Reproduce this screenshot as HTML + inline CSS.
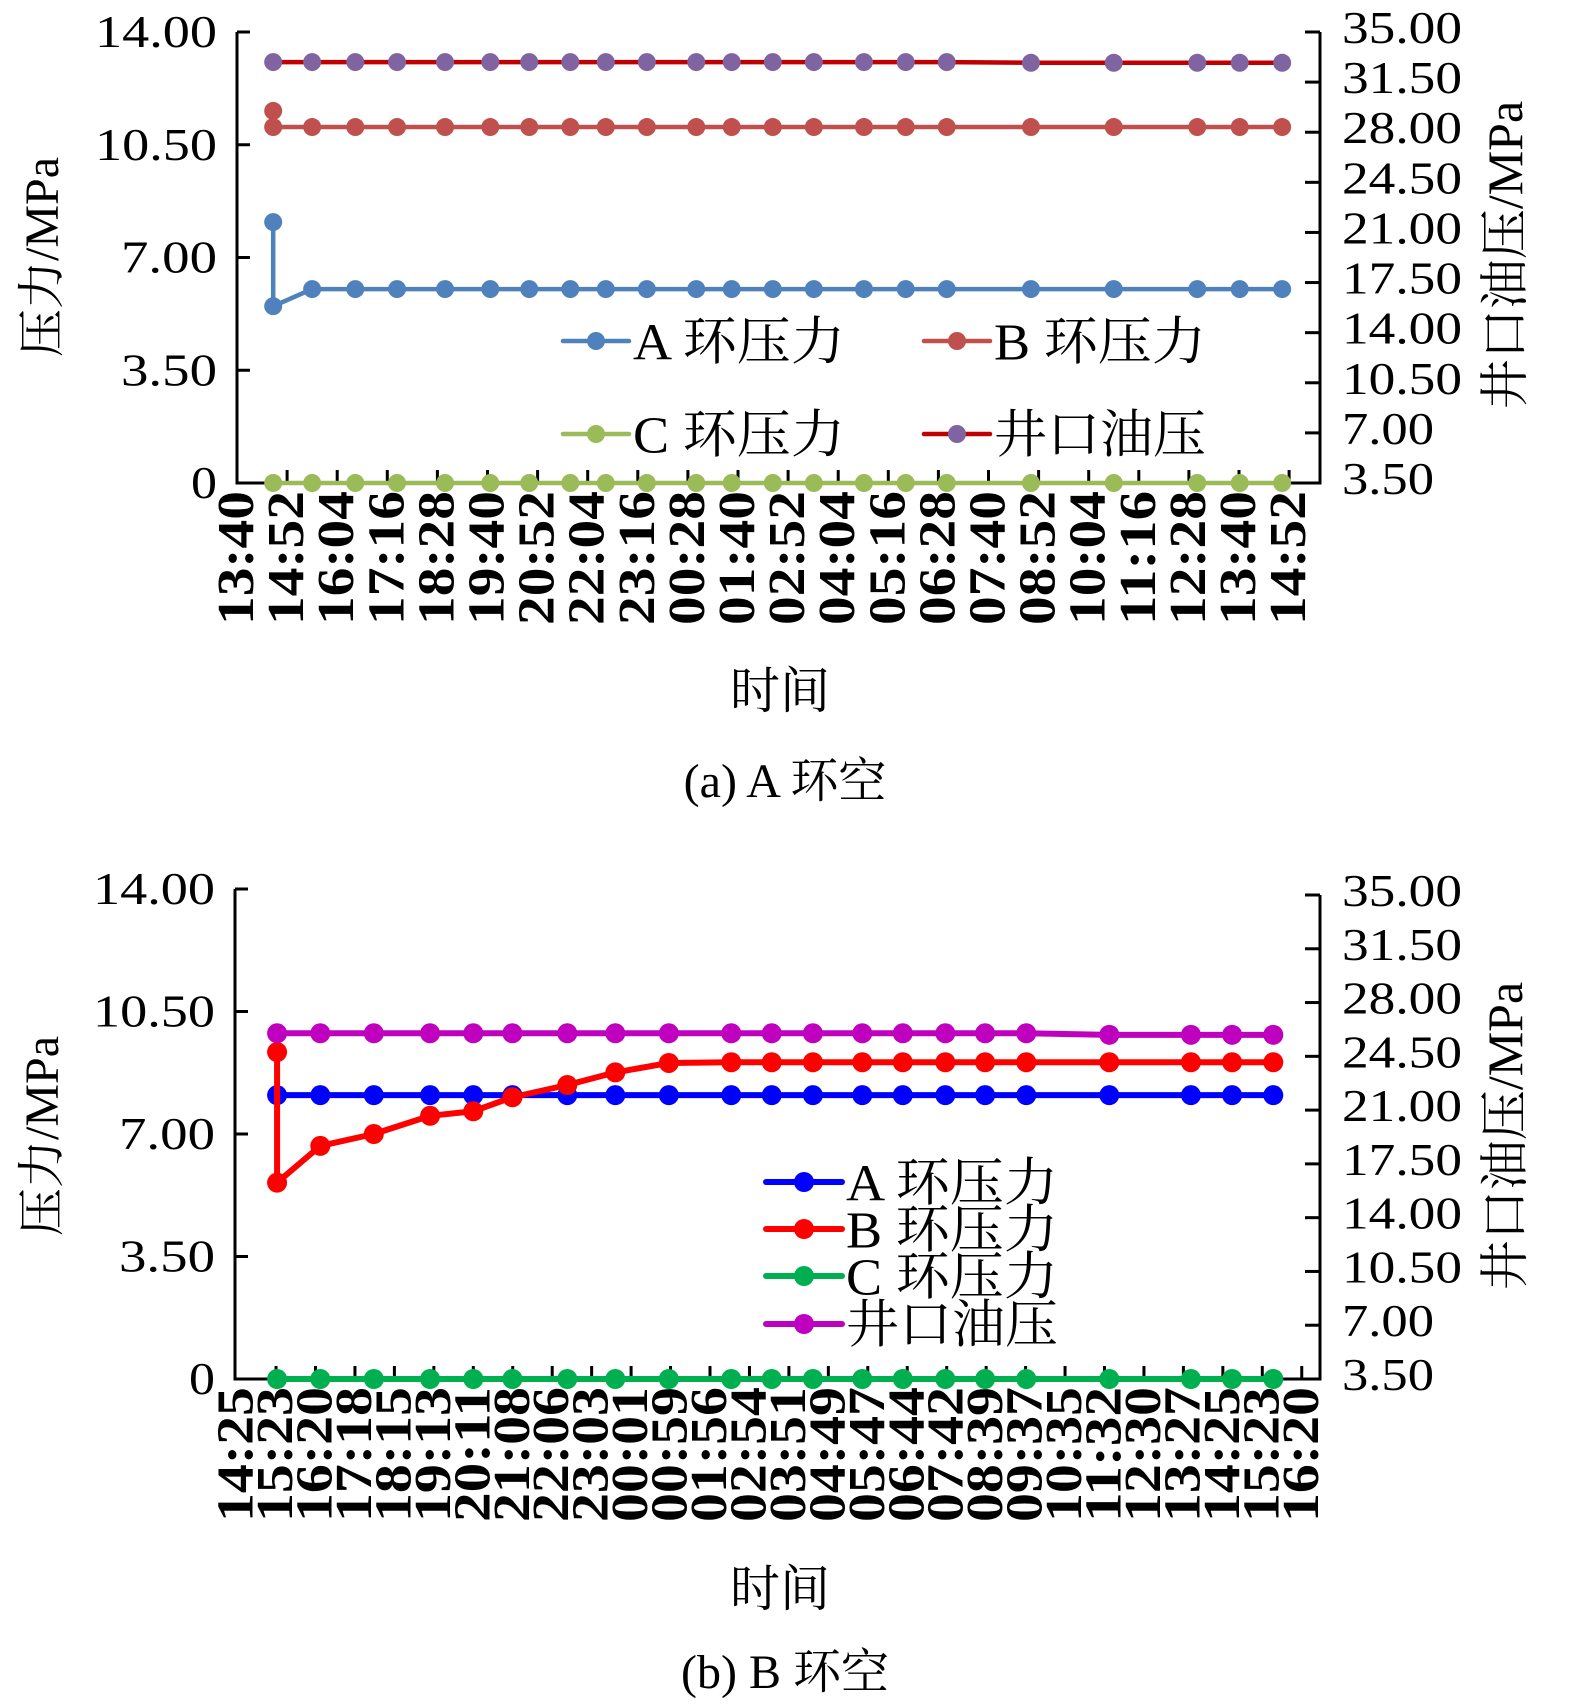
<!DOCTYPE html>
<html><head><meta charset="utf-8"><style>
html,body{margin:0;padding:0;background:#fff;}
svg{display:block;font-family:"Liberation Serif","Noto Serif CJK SC",serif;}
</style></head><body>
<svg id="s" width="1575" height="1704" viewBox="0 0 1575 1704" xmlns="http://www.w3.org/2000/svg"></svg>
<script>
// ---- Chart (a) data: time in minutes after 13:40 ----
const aTicks = ["13:40","14:52","16:04","17:16","18:28","19:40","20:52","22:04","23:16","00:28","01:40","02:52","04:04","05:16","06:28","07:40","08:52","10:04","11:16","12:28","13:40","14:52"];
const aTimes = [52,108,170,230,299,364,420,479,530,589,660,711,770,829,901,961,1020,1141,1260,1380,1441,1502];
const aTimesAB = [52,52,108,170,230,299,364,420,479,530,589,660,711,770,829,901,961,1020,1141,1260,1380,1441,1502];
const aSeriesA = [8.10,5.49,6.02,6.02,6.02,6.02,6.02,6.02,6.02,6.02,6.02,6.02,6.02,6.02,6.02,6.02,6.02,6.02,6.02,6.02,6.02,6.02,6.02];
const aSeriesB = [11.55,11.05,11.05,11.05,11.05,11.05,11.05,11.05,11.05,11.05,11.05,11.05,11.05,11.05,11.05,11.05,11.05,11.05,11.05,11.05,11.05,11.05,11.05];
const aSeriesC = [0,0,0,0,0,0,0,0,0,0,0,0,0,0,0,0,0,0,0,0,0,0];
const aSeriesWell = [32.9,32.9,32.9,32.9,32.9,32.9,32.9,32.9,32.9,32.9,32.9,32.9,32.9,32.9,32.9,32.9,32.9,32.85,32.85,32.85,32.85,32.85];
// ---- Chart (b) data: time in minutes after 14:25 ----
const bTicks = ["14:25","15:23","16:20","17:18","18:15","19:13","20:11","21:08","22:06","23:03","00:01","00:59","01:56","02:54","03:51","04:49","05:47","06:44","07:42","08:39","09:37","10:35","11:32","12:30","13:27","14:25","15:23","16:20"];
const bTimes = [59,122,200,282,345,402,482,552,630,721,780,840,912,971,1033,1091,1151,1272,1391,1451,1511];
const bTimesB = [59,59,122,200,282,345,402,482,552,630,721,780,840,912,971,1033,1091,1151,1272,1391,1451,1511];
const bSeriesA = [8.11,8.11,8.11,8.11,8.11,8.11,8.11,8.11,8.11,8.11,8.11,8.11,8.11,8.11,8.11,8.11,8.11,8.11,8.11,8.11,8.11];
const bSeriesB = [9.34,5.61,6.66,7.0,7.52,7.65,8.05,8.40,8.76,9.03,9.05,9.05,9.05,9.05,9.05,9.05,9.05,9.05,9.05,9.05,9.05,9.05];
const bSeriesC = [0,0,0,0,0,0,0,0,0,0,0,0,0,0,0,0,0,0,0,0,0];
const bSeriesWell = [26.0,26.0,26.0,26.0,26.0,26.0,26.0,26.0,26.0,26.0,26.0,26.0,26.0,26.0,26.0,26.0,26.0,25.9,25.9,25.9,25.9];
const leftTicks = ["0","3.50","7.00","10.50","14.00"];
const leftVals = [0,3.5,7,10.5,14];
const rightTicks = ["3.50","7.00","10.50","14.00","17.50","21.00","24.50","28.00","31.50","35.00"];
const rightVals = [3.5,7,10.5,14,17.5,21,24.5,28,31.5,35];

const NS="http://www.w3.org/2000/svg";
const svg=document.getElementById('s');
function mk(tag,attrs,parent){const e=document.createElementNS(NS,tag);for(const k in attrs)e.setAttribute(k,attrs[k]);(parent||svg).appendChild(e);return e;}

function chart(c){
  const g=mk('g',{});
  
  
  const xs=t=>c.x0+(t-c.t0)*c.pxPerMin;
  const yl=v=>c.yB-(v/14)*(c.yB-c.yT);
  const yr=v=>c.yB-((v-3.5)/31.5)*(c.yB-c.yRT);
  const ax=mk('path',{d:`M${c.xL} ${c.yT}V${c.yB}H${c.xR}V${c.yRT}`,fill:'none',stroke:'#000','stroke-width':3},g);
  
  
  leftVals.forEach((v,i)=>{
    const y=yl(v);
    mk('line',{x1:c.xL,x2:c.xL+13,y1:y,y2:y,stroke:'#000','stroke-width':3},g);
    const t=mk('text',{x:c.xL-20,y:y+15,'text-anchor':'end','font-size':46,textLength:leftTicks[i].length>2?(leftTicks[i].length===5?122:96):26,lengthAdjust:'spacingAndGlyphs'},g);
    t.textContent=leftTicks[i];
    
    
  });
  rightVals.forEach((v,i)=>{
    const y=yr(v);
    mk('line',{x1:c.xR-15,x2:c.xR,y1:y,y2:y,stroke:'#000','stroke-width':3},g);
    const t=mk('text',{x:c.xR+22,y:y+11,'font-size':46,textLength:rightTicks[i].length===5?120:92,lengthAdjust:'spacingAndGlyphs'},g);
    t.textContent=rightTicks[i];
    
    
  });
  c.ticks.forEach((lab,i)=>{
    const x=xs(c.t0+i*c.tickStep);
    if(i>0) mk('line',{x1:x,x2:x,y1:c.yB,y2:c.yB-13,stroke:'#000','stroke-width':3},g);
    const t=mk('text',{x:0,y:0,'text-anchor':'end','font-size':c.tickFont,'font-weight':'bold',transform:`translate(${x+16},${c.yB+8}) rotate(-90)`,textLength:c.tickLen,lengthAdjust:'spacingAndGlyphs'},g);
    t.textContent=lab;
    
    
  });
  const ser=[
    {n:'series-c',t:c.tC,v:c.sC,y:yl,line:c.colC,mark:c.colC},
    {n:'series-a',t:c.tA,v:c.sA,y:yl,line:c.colA,mark:c.colA},
    {n:'series-b',t:c.tB,v:c.sB,y:yl,line:c.colB,mark:c.colB},
    {n:'series-wellhead',t:c.tW,v:c.sW,y:yr,line:c.colWL,mark:c.colWM},
  ];
  ser.forEach(s=>{
    const sg=mk('g',{},g);
    
    
    const pts=s.v.map((v,i)=>[xs(s.t[i]),s.y(v)]);
    mk('polyline',{points:pts.map(p=>p.join(',')).join(' '),fill:'none',stroke:s.line,'stroke-width':c.lw,'stroke-linejoin':'round'},sg);
    pts.forEach(p=>{
      const m=mk('circle',{cx:p[0],cy:p[1],r:c.r,fill:s.mark},sg);
      
      
    });
  });
  c.legend.forEach(L=>{
    const lg=mk('g',{},g);
    
    
    mk('line',{x1:L.x,x2:L.x+c.legLen,y1:L.y,y2:L.y,stroke:L.line,'stroke-width':c.lw,'stroke-linecap':'round'},lg);
    mk('circle',{cx:L.x+c.legLen/2,cy:L.y,r:c.r,fill:L.mark},lg);
    const t=mk('text',{x:L.x+c.legLen+4,y:L.y+c.legFont*0.36,'font-size':c.legFont,textLength:c.legTextLen,lengthAdjust:'spacingAndGlyphs'},lg);
    t.textContent=L.text;
  });
  const tx=(txt,x,y,fs,rot,name)=>{
    const t=mk('text',{x:0,y:0,'text-anchor':'middle','font-size':fs,transform:`translate(${x},${y}) rotate(${rot})`},g);
    t.textContent=txt;
    
    
  };
  tx('压力/MPa',58,c.lTitleY,48,-90,'y-axis-title-left');
  tx('井口油压/MPa',1522,c.rTitleY,50,-90,'y-axis-title-right');
  tx('时间',780,c.xTitleY,50,0,'x-axis-title');
  tx(c.caption,785,c.capY,48,0,'caption');
}

chart({name:'chart-a-annulus',x0:237,t0:0,pxPerMin:50.1/72,tickStep:72,xL:237,xR:1320,yT:32,yB:483,yRT:32,
  ticks:aTicks,tickFont:52,tickLen:134,
  tA:aTimesAB,sA:aSeriesA,tB:aTimesAB,sB:aSeriesB,tC:aTimes,sC:aSeriesC,tW:aTimes,sW:aSeriesWell,
  colA:'#4f81bd',colB:'#c0504d',colC:'#9bbb59',colWL:'#c00000',colWM:'#8064a2',lw:4.5,r:9,
  legend:[{x:563,y:341,line:'#4f81bd',mark:'#4f81bd',text:'A 环压力'},{x:924,y:341,line:'#c0504d',mark:'#c0504d',text:'B 环压力'},
          {x:563,y:434,line:'#9bbb59',mark:'#9bbb59',text:'C 环压力'},{x:924,y:434,line:'#c00000',mark:'#8064a2',text:'井口油压'}],
  legLen:66,legFont:52,legTextLen:212,lTitleY:257,rTitleY:255,xTitleY:708,caption:'(a) A 环空',capY:797});

chart({name:'chart-b-annulus',x0:236.6,t0:0,pxPerMin:39.45/57.5,tickStep:57.5,xL:235,xR:1320,yT:889,yB:1379,yRT:895,
  ticks:bTicks,tickFont:52,tickLen:135,
  tA:bTimes,sA:bSeriesA,tB:bTimesB,sB:bSeriesB,tC:bTimes,sC:bSeriesC,tW:bTimes,sW:bSeriesWell,
  colA:'#0000ff',colB:'#ff0000',colC:'#00b050',colWL:'#bf00bf',colWM:'#bf00bf',lw:6,r:10,
  legend:[{x:766,y:1182,line:'#0000ff',mark:'#0000ff',text:'A 环压力'},{x:766,y:1229,line:'#ff0000',mark:'#ff0000',text:'B 环压力'},
          {x:766,y:1276,line:'#00b050',mark:'#00b050',text:'C 环压力'},{x:766,y:1324,line:'#bf00bf',mark:'#bf00bf',text:'井口油压'}],
  legLen:76,legFont:52,legTextLen:212,lTitleY:1136,rTitleY:1136,xTitleY:1606,caption:'(b) B 环空',capY:1688});
</script>
</body></html>
